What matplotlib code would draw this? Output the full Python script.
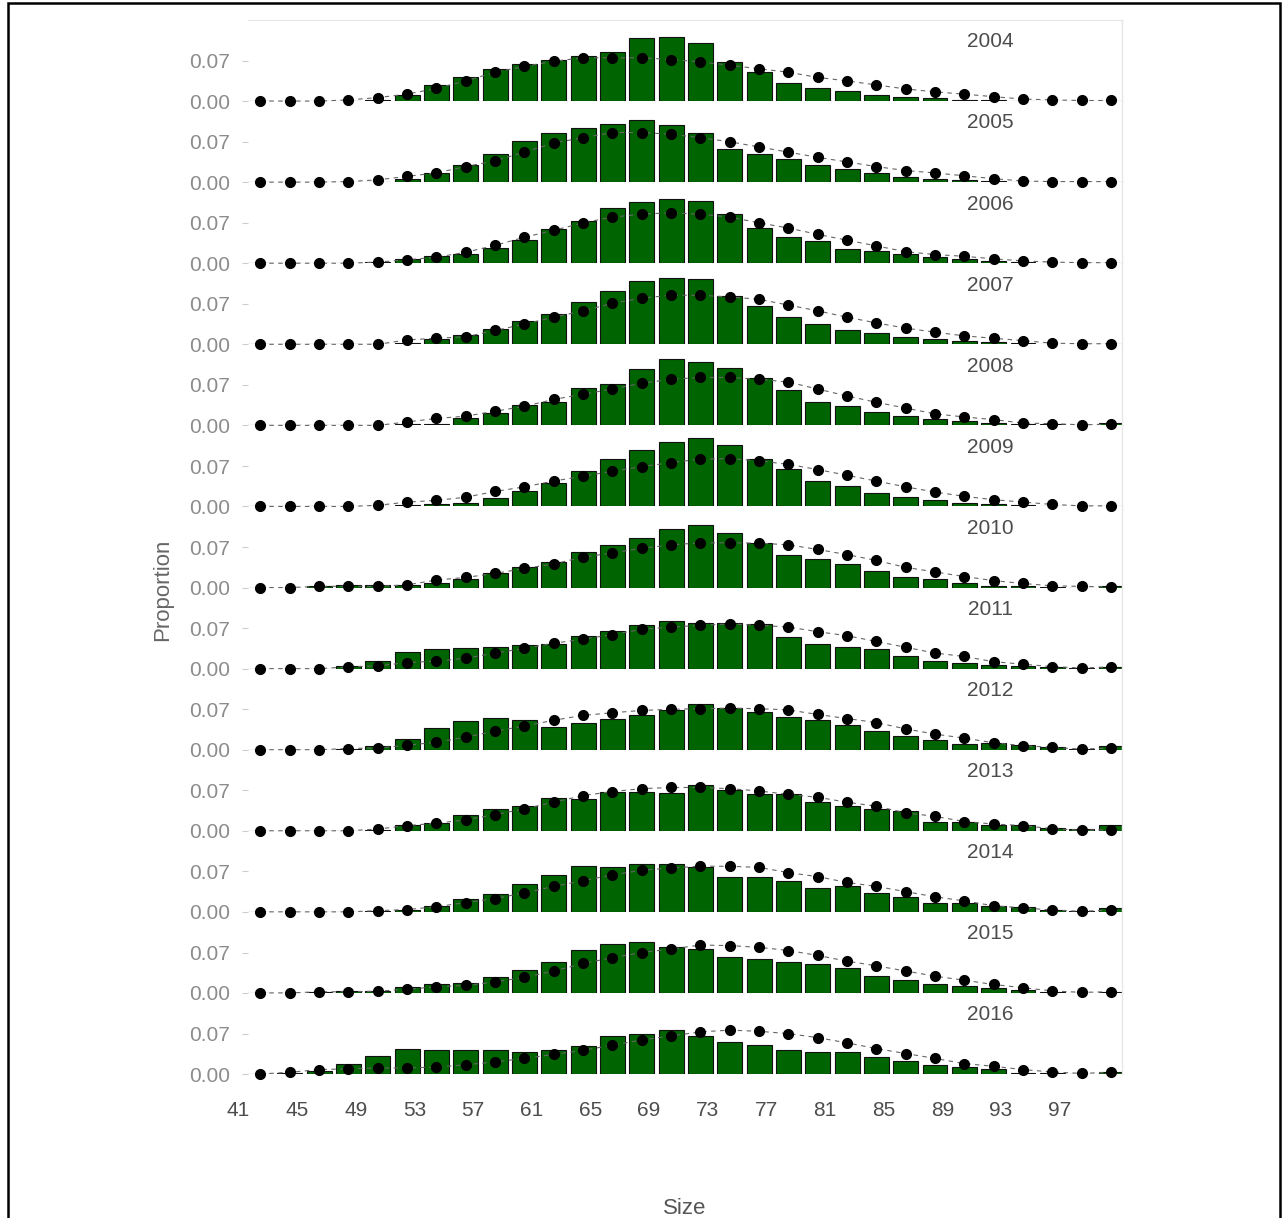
import numpy as np
import matplotlib
matplotlib.use("Agg")
import matplotlib.pyplot as plt
from matplotlib.patches import Rectangle

plt.rcParams['font.family'] = ['Liberation Sans', 'DejaVu Sans']

# size class midpoints
sizes = [42.5, 44.5, 46.5, 48.5, 50.5, 52.5, 54.5, 56.5, 58.5, 60.5,
         62.5, 64.5, 66.5, 68.5, 70.5, 72.5, 74.5, 76.5, 78.5, 80.5,
         82.5, 84.5, 86.5, 88.5, 90.5, 92.5, 94.5, 96.5, 98.5, 100.5]
size_ticks = [41, 45, 49, 53, 57, 61, 65, 69, 73, 77, 81, 85, 89, 93, 97]
years = [2004, 2005, 2006, 2007, 2008, 2009, 2010, 2011, 2012, 2013, 2014, 2015, 2016]

# observed proportions (bars) and model predictions (points)
obs_2004 = [0, 0, 0, 0, 0.002, 0.011, 0.027, 0.041, 0.055, 0.064, 0.072, 0.078, 0.085, 0.110, 0.111,
            0.100, 0.068, 0.051, 0.032, 0.023, 0.018, 0.011, 0.0065, 0.0047, 0.002, 0.001, 0, 0, 0, 0]
fit_2004 = [0, 0, 0, 0.002, 0.006, 0.012, 0.022, 0.035, 0.050, 0.060, 0.069, 0.075, 0.075, 0.075, 0.072,
            0.068, 0.062, 0.056, 0.050, 0.041, 0.035, 0.028, 0.021, 0.016, 0.012, 0.0076, 0.0035, 0.002, 0.001, 0.001]
obs_2005 = [0, 0, 0, 0, 0.001, 0.005, 0.015, 0.029, 0.048, 0.071, 0.085, 0.094, 0.101, 0.108, 0.099,
            0.085, 0.058, 0.049, 0.040, 0.029, 0.022, 0.016, 0.009, 0.006, 0.003, 0.002, 0.001, 0, 0, 0]
fit_2005 = [0, 0, 0, 0.001, 0.004, 0.010, 0.016, 0.027, 0.037, 0.052, 0.068, 0.077, 0.086, 0.086, 0.083,
            0.077, 0.070, 0.061, 0.052, 0.043, 0.035, 0.027, 0.020, 0.016, 0.011, 0.006, 0.002, 0.001, 0.001, 0.001]
obs_2006 = [0, 0, 0, 0, 0.002, 0.0076, 0.013, 0.016, 0.027, 0.040, 0.059, 0.073, 0.095, 0.106, 0.111,
            0.107, 0.085, 0.061, 0.045, 0.038, 0.025, 0.0216, 0.016, 0.0105, 0.007, 0.004, 0.002, 0.001, 0, 0.001]
fit_2006 = [0, 0, 0, 0, 0.002, 0.006, 0.0105, 0.019, 0.031, 0.045, 0.057, 0.070, 0.080, 0.085, 0.0875,
            0.085, 0.080, 0.070, 0.061, 0.050, 0.040, 0.030, 0.020, 0.015, 0.012, 0.0076, 0.004, 0.002, 0.001, 0.001]
obs_2007 = [0, 0, 0, 0, 0, 0.002, 0.009, 0.016, 0.027, 0.041, 0.053, 0.073, 0.092, 0.109, 0.1155,
            0.1125, 0.083, 0.067, 0.047, 0.035, 0.025, 0.020, 0.013, 0.009, 0.0064, 0.0035, 0.002, 0.001, 0, 0]
fit_2007 = [0, 0, 0, 0, 0, 0.0076, 0.0105, 0.013, 0.024, 0.035, 0.047, 0.058, 0.071, 0.080, 0.085,
            0.085, 0.082, 0.078, 0.068, 0.058, 0.047, 0.037, 0.028, 0.021, 0.0146, 0.0105, 0.0064, 0.002, 0.001, 0.001]
obs_2008 = [0, 0, 0, 0, 0, 0.002, 0.003, 0.013, 0.022, 0.035, 0.040, 0.064, 0.071, 0.097, 0.1155,
            0.110, 0.099, 0.082, 0.061, 0.040, 0.034, 0.023, 0.016, 0.0105, 0.0076, 0.0047, 0.003, 0.002, 0, 0.0047]
fit_2008 = [0, 0, 0, 0, 0, 0.006, 0.012, 0.016, 0.0245, 0.033, 0.045, 0.054, 0.063, 0.073, 0.080,
            0.083, 0.083, 0.080, 0.075, 0.063, 0.051, 0.040, 0.030, 0.020, 0.0146, 0.010, 0.004, 0.003, 0.001, 0.002]
obs_2009 = [0, 0, 0, 0, 0, 0.002, 0.0047, 0.0064, 0.015, 0.026, 0.040, 0.062, 0.082, 0.098, 0.1125,
            0.118, 0.107, 0.082, 0.065, 0.044, 0.036, 0.024, 0.016, 0.0105, 0.0064, 0.0047, 0.002, 0.001, 0, 0]
fit_2009 = [0, 0, 0, 0, 0.002, 0.0076, 0.0105, 0.016, 0.026, 0.034, 0.044, 0.0525, 0.061, 0.069, 0.076,
            0.082, 0.083, 0.079, 0.073, 0.064, 0.054, 0.044, 0.034, 0.025, 0.0175, 0.0117, 0.0076, 0.0035, 0.001, 0.001]
obs_2010 = [0, 0, 0.002, 0.0047, 0.0047, 0.0047, 0.0087, 0.0146, 0.026, 0.035, 0.044, 0.062, 0.073, 0.086, 0.101,
            0.108, 0.095, 0.0775, 0.057, 0.050, 0.040, 0.029, 0.019, 0.0146, 0.0076, 0.003, 0.002, 0.001, 0, 0.002]
fit_2010 = [0, 0, 0.002, 0.0023, 0.002, 0.0047, 0.013, 0.0175, 0.0245, 0.033, 0.041, 0.0525, 0.060, 0.068, 0.074,
            0.0775, 0.0775, 0.077, 0.074, 0.066, 0.057, 0.047, 0.035, 0.027, 0.019, 0.012, 0.007, 0.003, 0.002, 0.001]
obs_2011 = [0, 0, 0, 0.0047, 0.013, 0.028, 0.034, 0.035, 0.038, 0.041, 0.0425, 0.057, 0.065, 0.076, 0.082,
            0.079, 0.079, 0.0775, 0.055, 0.0425, 0.037, 0.034, 0.022, 0.0134, 0.0105, 0.0064, 0.0047, 0.002, 0.001, 0.002]
fit_2011 = [0, 0, 0, 0.003, 0.0047, 0.0105, 0.013, 0.018, 0.027, 0.035, 0.044, 0.051, 0.059, 0.068, 0.072,
            0.075, 0.0775, 0.075, 0.072, 0.064, 0.057, 0.047, 0.037, 0.027, 0.021, 0.012, 0.0076, 0.0035, 0.001, 0.003]
obs_2012 = [0, 0, 0, 0.002, 0.007, 0.019, 0.038, 0.050, 0.055, 0.051, 0.040, 0.0455, 0.054, 0.060, 0.068,
            0.080, 0.073, 0.065, 0.057, 0.051, 0.0425, 0.032, 0.0245, 0.016, 0.009, 0.012, 0.0076, 0.004, 0.002, 0.006]
fit_2012 = [0, 0, 0, 0.002, 0.003, 0.0076, 0.013, 0.022, 0.032, 0.041, 0.051, 0.0595, 0.064, 0.068, 0.070,
            0.071, 0.072, 0.071, 0.069, 0.061, 0.054, 0.047, 0.036, 0.027, 0.020, 0.012, 0.007, 0.004, 0.001, 0.003]
obs_2013 = [0, 0, 0, 0, 0.002, 0.0105, 0.013, 0.027, 0.038, 0.0425, 0.057, 0.0555, 0.068, 0.067, 0.066,
            0.080, 0.0705, 0.063, 0.063, 0.0495, 0.0425, 0.037, 0.034, 0.016, 0.016, 0.0105, 0.0105, 0.0047, 0.003, 0.0105]
fit_2013 = [0, 0, 0, 0, 0.003, 0.009, 0.013, 0.019, 0.028, 0.038, 0.0495, 0.061, 0.068, 0.073, 0.075,
            0.075, 0.073, 0.069, 0.063, 0.058, 0.0495, 0.0425, 0.031, 0.025, 0.016, 0.0117, 0.009, 0.0035, 0.001, 0.002]
obs_2014 = [0, 0, 0, 0, 0.001, 0.003, 0.0105, 0.023, 0.031, 0.048, 0.063, 0.080, 0.077, 0.083, 0.083,
            0.077, 0.060, 0.060, 0.054, 0.042, 0.0455, 0.033, 0.026, 0.016, 0.0146, 0.0105, 0.0076, 0.003, 0.002, 0.006]
fit_2014 = [0, 0, 0, 0, 0.002, 0.004, 0.009, 0.016, 0.023, 0.033, 0.044, 0.054, 0.064, 0.072, 0.076,
            0.079, 0.079, 0.077, 0.068, 0.061, 0.051, 0.044, 0.035, 0.026, 0.019, 0.0105, 0.007, 0.003, 0.001, 0.003]
obs_2015 = [0, 0, 0.002, 0.003, 0.0035, 0.0105, 0.016, 0.018, 0.027, 0.040, 0.054, 0.075, 0.085, 0.089, 0.079,
            0.076, 0.063, 0.059, 0.053, 0.0495, 0.0425, 0.030, 0.023, 0.016, 0.012, 0.009, 0.0047, 0.001, 0, 0.002]
fit_2015 = [0, 0, 0.002, 0.002, 0.003, 0.0064, 0.0105, 0.013, 0.019, 0.027, 0.038, 0.051, 0.061, 0.070, 0.076,
            0.083, 0.082, 0.079, 0.0735, 0.065, 0.055, 0.047, 0.038, 0.029, 0.022, 0.0146, 0.009, 0.0035, 0.001, 0.002]
obs_2016 = [0, 0.001, 0.0047, 0.0175, 0.032, 0.044, 0.041, 0.041, 0.041, 0.0385, 0.041, 0.048, 0.065, 0.069, 0.076,
            0.066, 0.056, 0.051, 0.041, 0.0385, 0.0385, 0.029, 0.022, 0.015, 0.012, 0.009, 0.002, 0.001, 0, 0.003]
fit_2016 = [0, 0.003, 0.0076, 0.009, 0.0105, 0.0105, 0.012, 0.016, 0.021, 0.027, 0.034, 0.041, 0.050, 0.059, 0.066,
            0.073, 0.076, 0.074, 0.070, 0.063, 0.054, 0.044, 0.0355, 0.027, 0.018, 0.0134, 0.0076, 0.0035, 0.001, 0.003]

observed = [obs_2004, obs_2005, obs_2006, obs_2007, obs_2008, obs_2009, obs_2010,
            obs_2011, obs_2012, obs_2013, obs_2014, obs_2015, obs_2016]
predicted = [fit_2004, fit_2005, fit_2006, fit_2007, fit_2008, fit_2009, fit_2010,
             fit_2011, fit_2012, fit_2013, fit_2014, fit_2015, fit_2016]

W, H = 1286, 1218
fig = plt.figure(figsize=(W / 100, H / 100), dpi=100)
fig.patch.set_facecolor('white')

left, right = 248 / W, 1122 / W
top, bottom = 1 - 20 / H, 1 - 1074 / H
n = len(years)
ph = (top - bottom) / n
ph_px = ph * H

grey_line = '#e6e6e6'
for i, year in enumerate(years):
    ax = fig.add_axes([left, top - (i + 1) * ph, right - left, ph])
    ax.set_facecolor('none')
    ax.bar(sizes, observed[i], width=1.7, color='#006400', edgecolor='#111111',
           linewidth=0.8, zorder=2)
    ax.plot(sizes, predicted[i], color='#666666', lw=0.8, ls=(0, (4, 4)),
            zorder=3, clip_on=False)
    ax.plot(sizes, predicted[i], 'o', color='black', ms=7, zorder=4, clip_on=False)
    ax.set_xticks([])
    ax.set_xlim(41.65, 101.25)
    ax.set_ylim(0, 0.1405)
    ax.set_yticks([0, 0.07])
    ax.set_yticklabels(['0.00', '0.07'])
    ax.tick_params(axis='y', length=4, width=0.8, color='#cccccc', pad=9,
                   labelsize=15, labelcolor='#8c8c8c')
    for s in ['left', 'bottom', 'top']:
        ax.spines[s].set_visible(False)
    ax.spines['right'].set_color(grey_line)
    ax.spines['right'].set_linewidth(1.0)
    if i == 0:
        ax.spines['top'].set_visible(True)
        ax.spines['top'].set_color(grey_line)
    ax.text(0.849, 0.73, str(year), transform=ax.transAxes, ha='center', va='center',
            fontsize=15, color='#4d4d4d')
    if i == n - 1:
        # size labels under the bottom panel (41 sits left of the panel edge)
        for t in size_ticks:
            ax.text(t, -37 / ph_px, str(t), transform=ax.get_xaxis_transform(),
                    ha='center', va='center', fontsize=15, color='#4d4d4d',
                    clip_on=False)

fig.text(163 / W, 1 - 590 / H, 'Proportion', rotation=90, ha='center', va='center',
         fontsize=16, color='#666666')
fig.text(685 / W, 1 - 1209 / H, 'Size', ha='center', va='center',
         fontsize=16, color='#555555')

# outer frame
fig.patches.append(Rectangle((8 / W, -0.02), (1280 - 8) / W, 1.02 - 3 / H,
                             transform=fig.transFigure, fill=False,
                             edgecolor='black', linewidth=1.8))

fig.savefig('out.png', dpi=100)
